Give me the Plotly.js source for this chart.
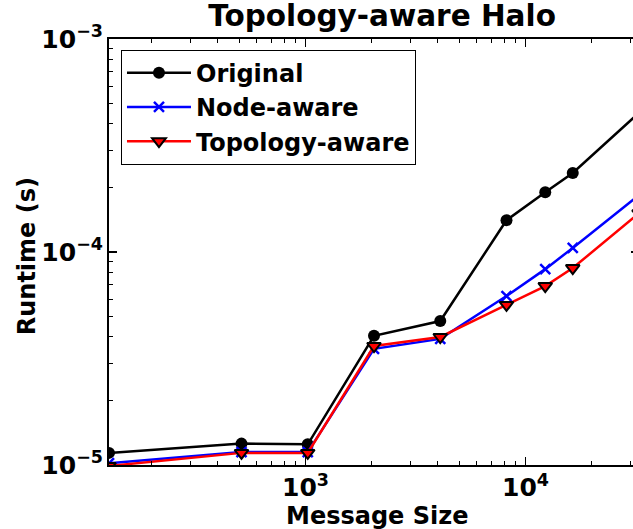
<!DOCTYPE html>
<html>
<head>
<meta charset="utf-8">
<script src="https://cdn.plot.ly/plotly-3.0.1.min.js"></script>
<style>html,body{margin:0;padding:0;overflow:hidden;background:#fff;}#chart{width:640px;height:529px;}</style>
</head>
<body>
<div id="chart"></div>
<script>
const messageSizes = [128, 512, 1024, 2048, 4096, 8192, 12288, 16384, 32768];
const originalRuntime = [1.14e-5, 1.26e-5, 1.25e-5, 4.04e-5, 4.74e-5, 1.41e-4, 1.91e-4, 2.35e-4, 4.5e-4];
const nodeAwareRuntime = [1.02e-5, 1.15e-5, 1.15e-5, 3.51e-5, 3.91e-5, 6.21e-5, 8.31e-5, 1.045e-4, 1.85e-4];
const topologyAwareRuntime = [9.9e-6, 1.14e-5, 1.14e-5, 3.62e-5, 3.99e-5, 5.64e-5, 6.92e-5, 8.41e-5, 1.52e-4];
const seriesNames = ["Original", "Node-aware", "Topology-aware"];
const chartTitle = "Topology-aware Halo";
const xTitle = "Message Size";
const yTitle = "Runtime (s)";

const FONT = "DejaVu Sans";
const traces = [
  {x: messageSizes, y: originalRuntime, name: seriesNames[0], mode: "lines+markers",
   line: {color: "#000000", width: 2.5},
   marker: {symbol: "circle", size: 12, color: "#000000"}},
  {x: messageSizes, y: nodeAwareRuntime, name: seriesNames[1], mode: "lines+markers",
   line: {color: "#0000ff", width: 2.5},
   marker: {symbol: "x-thin", size: 10, color: "#0000ff", line: {color: "#0000ff", width: 2.5}}},
  {x: messageSizes, y: topologyAwareRuntime, name: seriesNames[2], mode: "lines+markers",
   line: {color: "#ff0000", width: 2.5},
   marker: {symbol: "triangle-down", size: 12, color: "#ff0000", line: {color: "#000000", width: 2}}}
];

const axisCommon = {
  type: "log", showgrid: false, zeroline: false,
  showline: true, linecolor: "#000", linewidth: 2, mirror: "ticks",
  ticks: "inside", ticklen: 8, tickwidth: 1.5, tickcolor: "#000",
  dtick: 1, exponentformat: "power",
  tickfont: {family: FONT, size: 20, color: "#000", weight: "bold"},
  minor: {ticks: "inside", ticklen: 4, tickwidth: 1, tickcolor: "#000"}
};

const layout = {
  width: 640, height: 529,
  margin: {l: 109, r: 1, t: 39, b: 64},
  paper_bgcolor: "#fff", plot_bgcolor: "#fff",
  font: {family: FONT, color: "#000"},
  title: {text: "<b>" + chartTitle + "</b>", font: {family: FONT, size: 29.5, color: "#000"},
          x: 0.597, xanchor: "center", y: 0.99, yanchor: "top"},
  xaxis: Object.assign({}, axisCommon, {
    range: [Math.log10(128), Math.log10(32768)]
  }),
  yaxis: Object.assign({}, axisCommon, {
    range: [-5, -3]
  }),
  annotations: [{
    text: "<b>" + yTitle + "</b>", textangle: -90, showarrow: false,
    xref: "paper", yref: "paper", x: -0.1547, y: 0.49, xanchor: "center", yanchor: "middle",
    font: {family: FONT, size: 24, color: "#000"}
  }, {
    text: "<b>" + xTitle + "</b>", showarrow: false,
    xref: "paper", yref: "paper", x: 0.506, y: -0.1195, xanchor: "center", yanchor: "middle",
    font: {family: FONT, size: 24, color: "#000"}
  }],
  showlegend: true,
  legend: {
    x: 0.0226, y: 0.975, xanchor: "left", yanchor: "top",
    bordercolor: "#000", borderwidth: 1, bgcolor: "#fff",
    font: {family: FONT, size: 24, color: "#000", weight: "bold"},
    itemwidth: 64
  }
};

Plotly.newPlot("chart", traces, layout, {displayModeBar: false, staticPlot: true});
</script>
</body>
</html>
